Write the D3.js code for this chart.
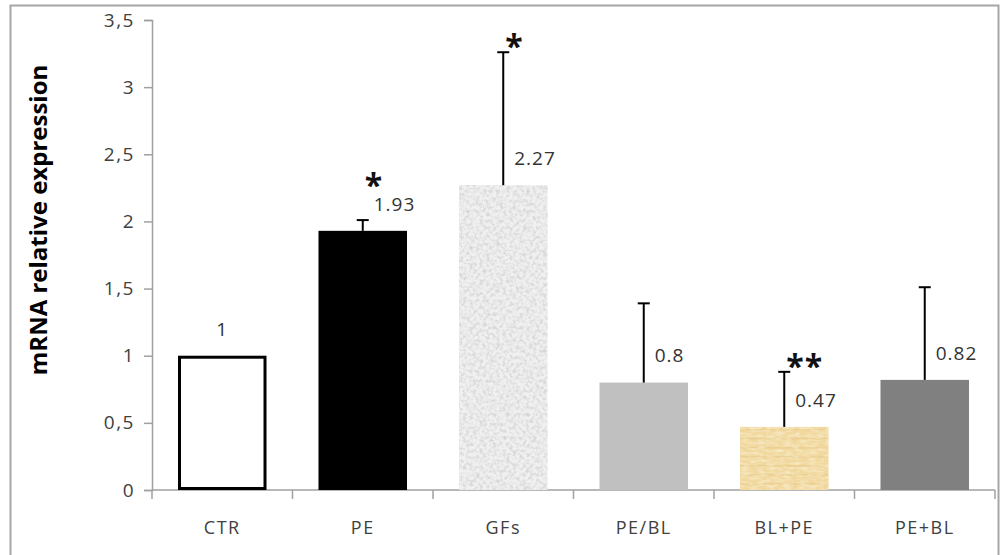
<!DOCTYPE html>
<html>
<head>
<meta charset="utf-8">
<script src="https://cdn.jsdelivr.net/npm/d3@7"></script>
<style>
  body { margin: 0; background: #fff; }
  svg text { font-family: "Open Sans", "Liberation Sans", sans-serif; }
</style>
</head>
<body>
<svg id="chart" width="1007" height="555"></svg>
<script>
// data
const categories = ["CTR", "PE", "GFs", "PE/BL", "BL+PE", "PE+BL"];
const means = [1, 1.93, 2.27, 0.8, 0.47, 0.82];
const errors = [0, 0.08, 0.99, 0.59, 0.41, 0.69];
const valueLabels = ["1", "1.93", "2.27", "0.8", "0.47", "0.82"];
const stars = ["", "*", "*", "", "**", ""];
const yTicks = [0, 0.5, 1, 1.5, 2, 2.5, 3, 3.5];

const svg = d3.select("#chart");

// ---- fills / textures ----
const defs = svg.append("defs");

// grey speckle for GFs
const speckle = defs.append("filter").attr("id", "speckle")
  .attr("x", 0).attr("y", 0).attr("width", 1).attr("height", 1);
speckle.append("feTurbulence").attr("type", "fractalNoise")
  .attr("baseFrequency", 0.3).attr("numOctaves", 3).attr("seed", 7).attr("result", "n");
speckle.append("feColorMatrix").attr("in", "n").attr("type", "matrix")
  .attr("values", "0 0 0 0 0.55  0 0 0 0 0.55  0 0 0 0 0.55  1.5 0 0 0 -0.6")
  .attr("result", "g");
speckle.append("feComposite").attr("in", "g").attr("in2", "SourceGraphic").attr("operator", "in");

// beige papyrus for BL+PE
const papyrus = defs.append("pattern").attr("id", "papyrus")
  .attr("patternUnits", "userSpaceOnUse").attr("width", 30).attr("height", 9);
papyrus.append("rect").attr("width", 30).attr("height", 9).attr("fill", "#f1d89e");
papyrus.append("rect").attr("y", 6).attr("width", 30).attr("height", 1.5).attr("fill", "#e8ca8a").attr("opacity", 0.6);
papyrus.append("rect").attr("x", 14).attr("width", 1.5).attr("height", 9).attr("fill", "#ebcf90").attr("opacity", 0.5);

const beigeNoise = defs.append("filter").attr("id", "beigeNoise")
  .attr("x", 0).attr("y", 0).attr("width", 1).attr("height", 1);
beigeNoise.append("feTurbulence").attr("type", "fractalNoise")
  .attr("baseFrequency", "0.12 0.4").attr("numOctaves", 2).attr("seed", 3).attr("result", "n");
beigeNoise.append("feColorMatrix").attr("in", "n").attr("type", "matrix")
  .attr("values", "0 0 0 0 0.98  0 0 0 0 0.92  0 0 0 0 0.75  1.4 0 0 0 -0.55")
  .attr("result", "g");
beigeNoise.append("feComposite").attr("in", "g").attr("in2", "SourceGraphic").attr("operator", "in");

const barStyle = {
  "CTR":   { fill: "#ffffff", stroke: "#000", sw: 3 },
  "PE":    { fill: "#000000" },
  "GFs":   { fill: "#f0f0f0", overlay: "url(#speckle)" },
  "PE/BL": { fill: "#c0c0c0" },
  "BL+PE": { fill: "url(#papyrus)", overlay: "url(#beigeNoise)" },
  "PE+BL": { fill: "#808080" }
};

// outer frame
svg.append("rect")
  .attr("x", 10.5).attr("y", 5.5).attr("width", 988).attr("height", 580)
  .attr("fill", "none").attr("stroke", "#a6a6a6").attr("stroke-width", 2);

// ---- scales ----
const y = d3.scaleLinear().domain([0, 3.5]).range([490, 20]);
const x = d3.scaleBand().domain(categories).range([152, 995])
  .paddingInner(0.37).paddingOuter(0.185);
const step = x.step();

const axisColor = "#a0a0a0";
const textColor = "#404040";

// y axis
const yAxis = svg.append("g").attr("transform", "translate(152,0)")
  .call(d3.axisLeft(y).tickValues(yTicks).tickSize(8).tickPadding(9)
    .tickFormat(d => String(d).replace(".", ",")));
yAxis.attr("font-family", null).attr("font-size", null);
yAxis.select(".domain").attr("stroke", axisColor).attr("stroke-width", 1.5);
yAxis.selectAll(".tick line").attr("stroke", axisColor).attr("stroke-width", 1.5);
yAxis.selectAll(".tick text")
  .attr("fill", textColor)
  .style("font-size", "19px")
  .style("letter-spacing", "1.5px");

// x axis: baseline plus ticks at category boundaries
const gx = svg.append("g");
gx.append("line")
  .attr("x1", 152).attr("x2", 995).attr("y1", y(0)).attr("y2", y(0))
  .attr("stroke", axisColor).attr("stroke-width", 1.5);
gx.selectAll("line.bt")
  .data(d3.range(categories.length + 1))
  .enter().append("line").attr("class", "bt")
  .attr("x1", i => 152 + i * step).attr("x2", i => 152 + i * step)
  .attr("y1", y(0)).attr("y2", y(0) + 9)
  .attr("stroke", axisColor).attr("stroke-width", 1.5);
gx.selectAll("text")
  .data(categories)
  .enter().append("text")
  .attr("x", d => x(d) + x.bandwidth() / 2)
  .attr("y", 534)
  .attr("text-anchor", "middle")
  .attr("fill", textColor)
  .style("font-size", "18px")
  .style("letter-spacing", "1.5px")
  .text(d => d);

// y title
svg.append("text")
  .attr("transform", "translate(47,220) rotate(-90)")
  .attr("text-anchor", "middle")
  .style("font-size", "24px")
  .attr("font-weight", "bold")
  .attr("fill", "#000")
  .text("mRNA relative expression");

// ---- bars ----
const rows = categories.map((c, i) => ({
  cat: c, v: means[i], e: errors[i], label: valueLabels[i], star: stars[i]
}));

const bars = svg.append("g");
rows.forEach(d => {
  const s = barStyle[d.cat];
  const sw = s.sw || 0;
  bars.append("rect")
    .attr("x", x(d.cat) + sw / 2)
    .attr("y", y(d.v) + sw / 2)
    .attr("width", x.bandwidth() - sw)
    .attr("height", y(0) - y(d.v) - sw)
    .attr("fill", s.fill)
    .attr("stroke", s.stroke || "none")
    .attr("stroke-width", sw);
  if (s.overlay) {
    bars.append("rect")
      .attr("x", x(d.cat)).attr("y", y(d.v))
      .attr("width", x.bandwidth()).attr("height", y(0) - y(d.v))
      .attr("fill", "#fff")
      .attr("filter", s.overlay);
  }
});

// error bars (upper only)
const err = svg.append("g").attr("stroke", "#000").attr("stroke-width", 2);
rows.filter(d => d.e > 0).forEach(d => {
  const cx = x(d.cat) + x.bandwidth() / 2;
  err.append("line").attr("x1", cx).attr("x2", cx)
    .attr("y1", y(d.v)).attr("y2", y(d.v + d.e));
  err.append("line").attr("x1", cx - 6).attr("x2", cx + 6)
    .attr("y1", y(d.v + d.e)).attr("y2", y(d.v + d.e));
});

// value labels
const labelY = d => y(d.v) - 27;
svg.append("g").selectAll("text")
  .data(rows)
  .enter().append("text")
  .attr("x", d => x(d.cat) + x.bandwidth() / 2 + (d.e > 0 ? 11 : 0))
  .attr("y", labelY)
  .attr("dy", "0.36em")
  .attr("text-anchor", d => d.e > 0 ? "start" : "middle")
  .attr("fill", "#333")
  .style("font-size", "19px")
  .style("letter-spacing", "1px")
  .text(d => d.label);

// significance stars
svg.append("g").selectAll("text")
  .data(rows.filter(d => d.star))
  .enter().append("text")
  .attr("x", d => x(d.cat) + x.bandwidth() / 2 + 2)
  .attr("y", d => Math.min(y(d.v + d.e), labelY(d) - 13) - 21)
  .attr("dy", "0.85em")
  .attr("fill", "#111")
  .style("font-size", "32px")
  .style("letter-spacing", "1px")
  .attr("font-weight", "bold")
  .text(d => d.star);
</script>
</body>
</html>
